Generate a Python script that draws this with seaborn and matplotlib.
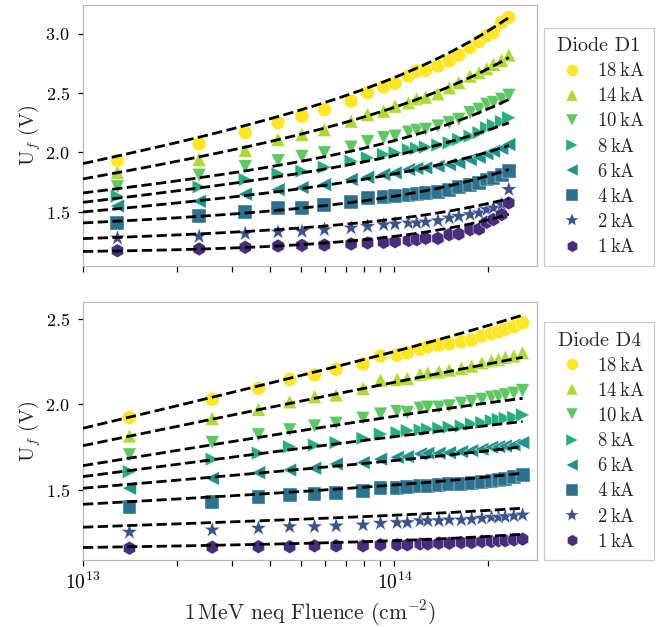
import numpy as np
import pandas as pd
import matplotlib
matplotlib.use("Agg")
import matplotlib.pyplot as plt
import seaborn as sns
from matplotlib.lines import Line2D
from matplotlib.ticker import NullFormatter, LogLocator

# ---------------- data ----------------
currents = [18, 14, 10, 8, 6, 4, 2, 1]  # kA
current_labels = [r"18$\:$kA", r"14$\:$kA", r"10$\:$kA", r"8$\:$kA",
                  r"6$\:$kA", r"4$\:$kA", r"2$\:$kA", r"1$\:$kA"]

fluence_d1 = [1.29e13, 2.36e13, 3.32e13, 4.23e13, 5.05e13, 5.96e13, 7.26e13,
              8.20e13, 9.24e13, 1.005e14, 1.11e14, 1.18e14, 1.26e14, 1.38e14,
              1.50e14, 1.61e14, 1.75e14, 1.87e14, 1.98e14, 2.08e14, 2.21e14,
              2.33e14]
fluence_d4 = [1.41e13, 2.60e13, 3.66e13, 4.61e13, 5.54e13, 6.50e13, 7.93e13,
              9.02e13, 1.02e14, 1.10e14, 1.21e14, 1.28e14, 1.39e14, 1.50e14,
              1.64e14, 1.77e14, 1.91e14, 2.05e14, 2.16e14, 2.27e14, 2.42e14,
              2.58e14]

d1_18 = [1.933, 2.073, 2.166, 2.250, 2.306, 2.362, 2.432, 2.503, 2.550, 2.581, 2.643,
         2.685, 2.691, 2.727, 2.769, 2.820, 2.882, 2.933, 2.980, 3.008, 3.093, 3.135]
d1_14 = [1.834, 1.941, 2.019, 2.110, 2.152, 2.193, 2.264, 2.320, 2.348, 2.390, 2.419,
         2.452, 2.466, 2.494, 2.545, 2.587, 2.643, 2.671, 2.705, 2.741, 2.775, 2.820]
d1_10 = [1.711, 1.809, 1.880, 1.930, 1.966, 1.997, 2.045, 2.090, 2.124, 2.137, 2.171,
         2.185, 2.194, 2.222, 2.250, 2.278, 2.334, 2.362, 2.404, 2.419, 2.446, 2.480]
d1_8 = [1.632, 1.710, 1.773, 1.820, 1.843, 1.876, 1.927, 1.955, 1.983, 1.997, 2.025,
        2.034, 2.045, 2.062, 2.082, 2.110, 2.137, 2.166, 2.208, 2.230, 2.259, 2.292]
d1_6 = [1.550, 1.590, 1.650, 1.688, 1.705, 1.730, 1.773, 1.792, 1.815, 1.829, 1.857,
        1.866, 1.871, 1.885, 1.899, 1.913, 1.941, 1.960, 1.989, 2.011, 2.034, 2.067]
d1_4 = [1.410, 1.463, 1.500, 1.530, 1.534, 1.562, 1.585, 1.618, 1.623, 1.632, 1.646,
        1.652, 1.660, 1.669, 1.688, 1.708, 1.730, 1.745, 1.773, 1.787, 1.809, 1.843]
d1_2 = [1.281, 1.295, 1.318, 1.332, 1.337, 1.351, 1.366, 1.379, 1.393, 1.399, 1.408,
        1.408, 1.416, 1.427, 1.450, 1.463, 1.478, 1.492, 1.520, 1.534, 1.562, 1.689]
d1_1 = [1.174, 1.189, 1.203, 1.214, 1.219, 1.222, 1.231, 1.239, 1.244, 1.250, 1.261,
        1.267, 1.278, 1.278, 1.309, 1.315, 1.351, 1.356, 1.413, 1.436, 1.478, 1.576]

d4_18 = [1.923, 2.030, 2.095, 2.147, 2.173, 2.206, 2.237, 2.284, 2.289, 2.303, 2.323,
         2.338, 2.348, 2.354, 2.367, 2.377, 2.401, 2.416, 2.426, 2.440, 2.455, 2.478]
d4_14 = [1.816, 1.919, 1.972, 2.016, 2.046, 2.056, 2.095, 2.143, 2.147, 2.153, 2.178,
         2.186, 2.192, 2.202, 2.212, 2.225, 2.244, 2.256, 2.264, 2.276, 2.284, 2.303]
d4_10 = [1.705, 1.777, 1.822, 1.851, 1.874, 1.890, 1.919, 1.944, 1.958, 1.952, 1.978,
         1.984, 1.984, 1.991, 2.007, 2.016, 2.030, 2.042, 2.046, 2.056, 2.066, 2.081]
d4_8 = [1.607, 1.680, 1.715, 1.753, 1.763, 1.777, 1.802, 1.827, 1.835, 1.847, 1.851,
        1.855, 1.861, 1.867, 1.874, 1.886, 1.894, 1.905, 1.913, 1.919, 1.925, 1.939]
d4_6 = [1.510, 1.568, 1.601, 1.617, 1.627, 1.652, 1.660, 1.680, 1.691, 1.695, 1.711,
        1.715, 1.715, 1.718, 1.724, 1.730, 1.738, 1.750, 1.753, 1.757, 1.763, 1.777]
d4_4 = [1.399, 1.432, 1.457, 1.471, 1.477, 1.484, 1.496, 1.510, 1.510, 1.516, 1.523,
        1.523, 1.529, 1.535, 1.535, 1.543, 1.549, 1.554, 1.558, 1.562, 1.574, 1.588]
d4_2 = [1.253, 1.266, 1.276, 1.285, 1.285, 1.289, 1.295, 1.305, 1.309, 1.309, 1.320,
        1.320, 1.320, 1.325, 1.325, 1.328, 1.334, 1.340, 1.340, 1.344, 1.348, 1.354]
d4_1 = [1.159, 1.165, 1.168, 1.168, 1.173, 1.173, 1.173, 1.179, 1.179, 1.179, 1.184,
        1.184, 1.188, 1.188, 1.192, 1.192, 1.198, 1.198, 1.203, 1.203, 1.208, 1.212]

# fit curves: value at 1e13, at 1e14 and at the last fluence (per current)
fit_d1_start = [1.907, 1.778, 1.660, 1.581, 1.500, 1.408, 1.276, 1.168]
fit_d1_mid = [2.630, 2.380, 2.100, 1.975, 1.820, 1.632, 1.441, 1.295]
fit_d1_end = [3.135, 2.798, 2.446, 2.250, 2.058, 1.857, 1.612, 1.480]
fit_d4_start = [1.861, 1.759, 1.642, 1.578, 1.510, 1.416, 1.282, 1.163]
fit_d4_mid = [2.310, 2.130, 1.931, 1.812, 1.672, 1.529, 1.352, 1.203]
fit_d4_end = [2.523, 2.276, 2.036, 1.900, 1.753, 1.598, 1.393, 1.241]

# ---------------- style ----------------
sns.set_theme(style="whitegrid")
plt.rcParams.update({
    "font.family": "serif",
    "font.serif": ["cmr10"],
    "mathtext.fontset": "cm",
    "axes.formatter.use_mathtext": True,
    "axes.unicode_minus": False,
    "axes.grid": False,
    "axes.edgecolor": "0.72",
    "axes.linewidth": 0.9,
    "xtick.bottom": True,
    "ytick.left": True,
    "xtick.color": "black",
    "ytick.color": "black",
    "xtick.direction": "out",
    "ytick.direction": "out",
    "xtick.major.size": 4.5,
    "xtick.minor.size": 4.0,
    "ytick.major.size": 3.5,
    "xtick.major.width": 0.9,
    "xtick.minor.width": 0.9,
    "ytick.major.width": 0.9,
    "ytick.major.pad": 6,
    "xtick.labelsize": 14,
    "ytick.labelsize": 13,
    "axes.labelsize": 14.5,
})

markers = ["o", "^", "v", ">", "<", "s", "*", "h"]
vir = plt.get_cmap("viridis")
colors = [vir(v) for v in np.linspace(0, 1, 9)[1:]][::-1]
pal = {c: col for c, col in zip(currents, colors)}
mk = {c: m for c, m in zip(currents, markers)}
sz = {c: (150 if m == "*" else 100) for c, m in zip(currents, markers)}


def long_df(fluence, series):
    rows = []
    for c, vals in zip(currents, series):
        for f, v in zip(fluence, vals):
            rows.append({"fluence": f, "U": v, "current": c})
    return pd.DataFrame(rows)


df1 = long_df(fluence_d1, [d1_18, d1_14, d1_10, d1_8, d1_6, d1_4, d1_2, d1_1])
df4 = long_df(fluence_d4, [d4_18, d4_14, d4_10, d4_8, d4_6, d4_4, d4_2, d4_1])

fig = plt.figure(figsize=(6.62, 6.27), dpi=100)
ax1 = fig.add_axes([83 / 662, 1 - 265.5 / 627, 454 / 662, 260.5 / 627])
ax2 = fig.add_axes([83 / 662, 1 - 560 / 627, 454 / 662, 257.7 / 627], sharex=ax1)


def fit_curve(start, mid, end, fend):
    T = np.log10(fend / 1e13)
    A = np.array([[1, 0, 0], [1, 1, 9.0], [1, T, 10 ** T - 1]])
    a, b, c = np.linalg.solve(A, [start, mid, end])
    f = np.geomspace(1e13, fend, 300)
    t = np.log10(f / 1e13)
    return f, a + b * t + c * (10 ** t - 1)


def draw(ax, df, fluence, fs, fm, fe, title, ylim):
    sns.scatterplot(data=df, x="fluence", y="U", hue="current", style="current",
                    size="current", sizes=sz,
                    palette=pal, markers=mk, linewidth=0.3,
                    edgecolor="white", legend=False, ax=ax, zorder=2)
    for i in range(len(currents)):
        f, u = fit_curve(fs[i], fm[i], fe[i], max(fluence))
        ax.plot(f, u, ls="--", color="black", lw=2.0, zorder=3)
    ax.set_xscale("log")
    ax.set_xlim(1e13, 2.87e14)
    ax.set_ylim(*ylim)
    ax.set_ylabel(r"U$_f$ (V)", labelpad=2)
    ax.set_xlabel("")
    ax.xaxis.set_minor_locator(LogLocator(base=10, subs=np.arange(2, 10)))
    ax.xaxis.set_minor_formatter(NullFormatter())
    handles = [Line2D([], [], ls="none", marker=m, color=col,
                      markersize=8.5 if m != "*" else 10,
                      markeredgecolor="white", markeredgewidth=0.3)
               for m, col in zip(markers, colors)]
    leg = ax.legend(handles, current_labels, title=title, loc="lower left",
                    bbox_to_anchor=(1.016, 0.0), borderaxespad=0.0,
                    fontsize=13.5, title_fontsize=14.5, frameon=True, fancybox=False,
                    framealpha=1.0, edgecolor="0.8", handlelength=2.0,
                    handletextpad=0.3, labelspacing=0.38, borderpad=0.5)
    leg.get_frame().set_linewidth(0.9)


draw(ax1, df1, fluence_d1, fit_d1_start, fit_d1_mid, fit_d1_end, "Diode D1", (1.05, 3.24))
draw(ax2, df4, fluence_d4, fit_d4_start, fit_d4_mid, fit_d4_end, "Diode D4", (1.09, 2.598))
ax1.set_yticks([1.5, 2.0, 2.5, 3.0])
ax2.set_yticks([1.5, 2.0, 2.5])
plt.setp(ax1.get_xticklabels(), visible=False)
ax2.set_xlabel(r"1$\,$MeV neq Fluence (cm$^{-2}$)", fontsize=15.5)

fig.savefig("out.png", dpi=100)
